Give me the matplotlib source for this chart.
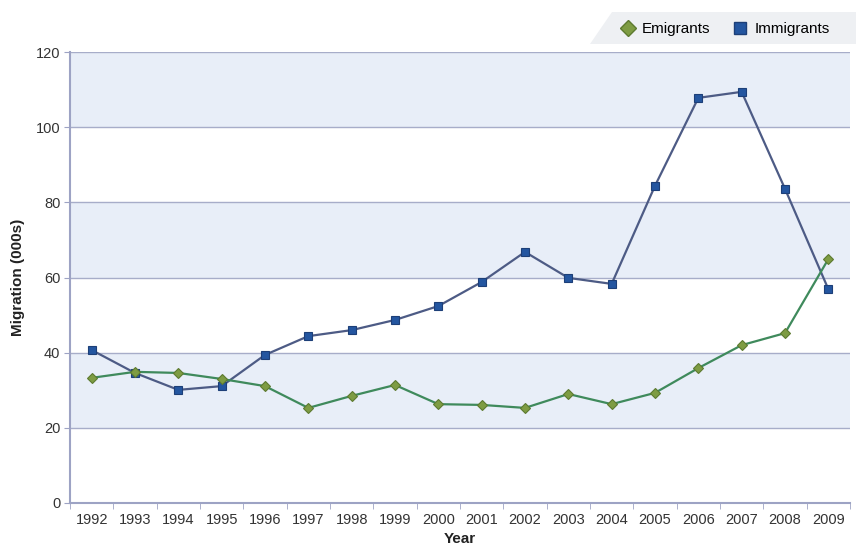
import matplotlib
matplotlib.use("Agg")
import matplotlib.pyplot as plt
from matplotlib.patches import Polygon
from matplotlib.lines import Line2D

years = [str(y) for y in range(1992, 2010)]
immigrants = [40.7, 34.6, 30.1, 31.1, 39.4, 44.4, 46.0, 48.7, 52.4, 58.8, 66.8, 59.9, 58.3, 84.4, 107.8, 109.4, 83.6, 56.9]
emigrants = [33.3, 34.9, 34.6, 33.0, 31.1, 25.3, 28.5, 31.4, 26.3, 26.1, 25.3, 29.0, 26.3, 29.3, 35.9, 42.0, 45.2, 64.9]
yticks = [0, 20, 40, 60, 80, 100, 120]

plt.rcParams['font.family'] = ['Liberation Sans', 'DejaVu Sans']

fig = plt.figure(figsize=(8.56, 5.56), dpi=100)
fig.patch.set_facecolor('white')

# legend background
poly = Polygon([[590/856, 1-44/556], [612/856, 1-12/556], [1.0, 1-12/556], [1.0, 1-44/556]],
               closed=True, transform=fig.transFigure, facecolor='#eef0f3', edgecolor='none')
fig.patches.append(poly)

ax = fig.add_axes([70/856, 53/556, 780/856, 451/556])
x = list(range(len(years)))
ax.set_xlim(-0.5, len(years) - 0.5)
ax.set_ylim(0, 120)

for lo in [20, 60, 100]:
    ax.axhspan(lo, lo + 20, color='#e8eef8', zorder=0, lw=0)
for t in yticks[1:]:
    ax.axhline(t, color='#a7adc9', lw=1, zorder=1)

ax.plot(x, immigrants, color='#4d5b85', lw=1.6, marker='s', ms=5.5,
        mfc='#2456a0', mec='#1d3f78', mew=0.8, zorder=3)
ax.plot(x, emigrants, color='#3f8a5c', lw=1.6, marker='D', ms=5.5,
        mfc='#7e9c43', mec='#5d7a30', mew=0.8, zorder=3)

ax.set_yticks(yticks)
ax.set_xticks(x)
ax.set_xticklabels(years)
ax.set_xticks([i + 0.5 for i in range(-1, len(years))], minor=True)
ax.tick_params(axis='x', which='major', length=0, pad=7, labelsize=10.5, colors='#333333')
ax.tick_params(axis='x', which='minor', length=4, color='#9da3c4')
ax.tick_params(axis='y', length=4, color='#9da3c4', labelsize=10.5, colors='#333333', pad=3)
for s in ['top', 'right']:
    ax.spines[s].set_visible(False)
for s in ['left', 'bottom']:
    ax.spines[s].set_color('#9da3c4')
    ax.spines[s].set_linewidth(1.5)

ax.set_ylabel('Migration (000s)', fontsize=11, fontweight='bold', color='#222222', labelpad=8)
ax.set_xlabel('Year', fontsize=11, fontweight='bold', color='#222222', labelpad=4)

handles = [Line2D([], [], ls='none', marker='D', ms=8, mfc='#7e9c43', mec='#5d7a30'),
           Line2D([], [], ls='none', marker='s', ms=8, mfc='#2456a0', mec='#1d3f78')]
fig.legend(handles, ['Emigrants', 'Immigrants'], loc='center right',
           bbox_to_anchor=(0.985, 1 - 29/556), ncol=2, frameon=False,
           fontsize=11, handletextpad=0.4, columnspacing=1.5, handlelength=1.0)

fig.savefig('out.png', dpi=100)
